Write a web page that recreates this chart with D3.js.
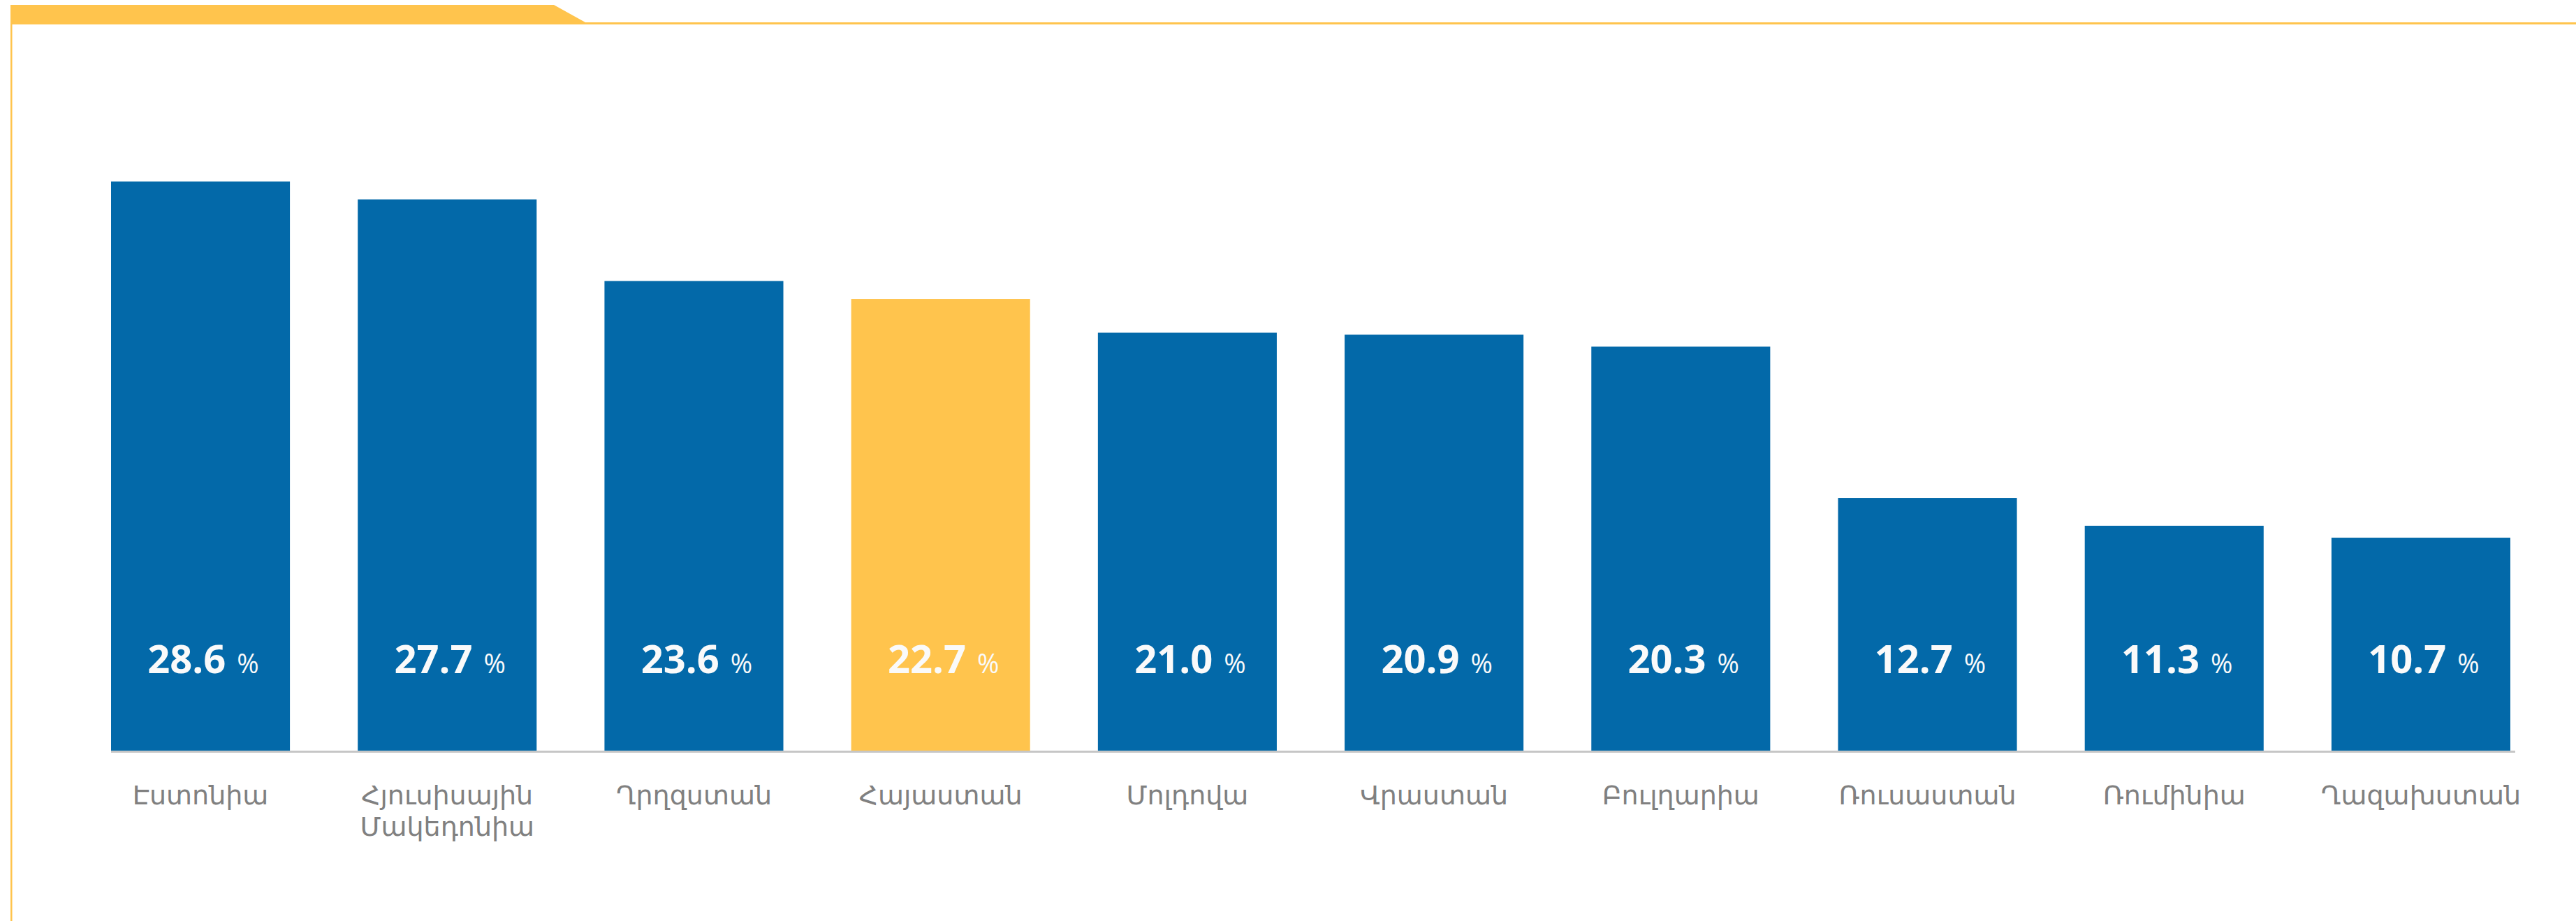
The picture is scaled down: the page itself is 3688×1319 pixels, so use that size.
<!DOCTYPE html>
<html>
<head>
<meta charset="utf-8">
<script src="https://cdn.jsdelivr.net/npm/d3@7"></script>
<style>
  html, body { margin: 0; padding: 0; background: #ffffff; }
  svg { display: block; }
</style>
</head>
<body>
<svg id="chart" width="3688" height="1319"></svg>
<script>
// ---- data ----
const categories = [
  ["Էստոնիա"],
  ["Հյուսիսային", "Մակեդոնիա"],
  ["Ղրղզստան"],
  ["Հայաստան"],
  ["Մոլդովա"],
  ["Վրաստան"],
  ["Բուլղարիա"],
  ["Ռուսաստան"],
  ["Ռումինիա"],
  ["Ղազախստան"]
];
const values = [28.6, 27.7, 23.6, 22.7, 21.0, 20.9, 20.3, 12.7, 11.3, 10.7];
const highlighted = ["Հայաստան"];
const valueSuffix = "%";

// ---- layout ----
const W = 3688, H = 1319;
const blue = "#0369a9", yellow = "#ffc44d";
const svg = d3.select("#chart");

// decorative frame (top band + left rule)
svg.append("path")
  .attr("d", `M15,7 L793,7 L838,32 L${W},32 L${W},35 L15,35 Z`)
  .attr("fill", yellow);
svg.append("rect").attr("x", 15).attr("y", 35).attr("width", 2.5).attr("height", H - 35).attr("fill", yellow);

const keys = categories.map(c => c.join(" "));
const x = d3.scaleBand().domain(keys).range([159, 3594]).paddingInner(0.275).paddingOuter(0);
const y = d3.scaleLinear().domain([0, 30]).range([1075, 220]);

const data = keys.map((k, i) => ({ key: k, lines: categories[i], value: values[i] }));

// axis baseline
svg.append("line")
  .attr("x1", 159).attr("x2", 3601)
  .attr("y1", y(0) + 1.5).attr("y2", y(0) + 1.5)
  .attr("stroke", "#c6c6c6").attr("stroke-width", 3);

// bars
svg.append("g").selectAll("rect").data(data).join("rect")
  .attr("x", d => x(d.key))
  .attr("y", d => y(d.value))
  .attr("width", x.bandwidth())
  .attr("height", d => y(0) - y(d.value))
  .attr("fill", d => highlighted.includes(d.key) ? yellow : blue);

// value labels
const fmt = d3.format(".1f");
const vl = svg.append("g").selectAll("text").data(data).join("text")
  .attr("x", d => x(d.key) + x.bandwidth() / 2 + 4)
  .attr("y", y(0) - 111)
  .attr("text-anchor", "middle")
  .attr("fill", "#fafafa")
  .attr("font-family", "'Open Sans', 'Noto Sans', sans-serif");
vl.append("tspan").attr("font-size", 56).attr("font-weight", 700).text(d => fmt(d.value));
vl.append("tspan").attr("dx", 16).attr("font-size", 38).attr("font-weight", 500).text(valueSuffix);

// category labels
const cl = svg.append("g").selectAll("text").data(data).join("text")
  .attr("x", d => x(d.key) + x.bandwidth() / 2)
  .attr("y", 1152)
  .attr("text-anchor", "middle")
  .attr("fill", "#808080")
  .attr("font-size", 38)
  .attr("font-family", "'DejaVu Sans', 'Noto Sans', sans-serif");
cl.selectAll("tspan").data(d => d.lines).join("tspan")
  .attr("x", function() { return this.parentNode.getAttribute("x"); })
  .attr("dy", (d, i) => i === 0 ? 0 : 45)
  .text(d => d);
</script>
</body>
</html>
